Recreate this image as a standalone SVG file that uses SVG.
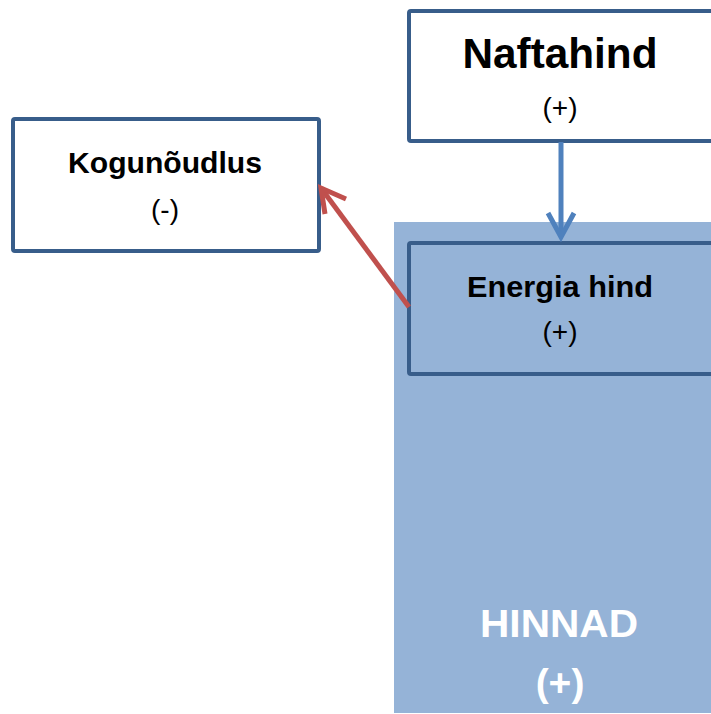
<svg xmlns="http://www.w3.org/2000/svg" width="711" height="714" viewBox="0 0 711 714">
  <defs>
    <style>
      .box { fill: #ffffff; stroke: #385d8a; stroke-width: 4; }
      .boxin { fill: #95b3d7; stroke: #385d8a; stroke-width: 4; }
      .t { font-family: "Liberation Sans", Arial, sans-serif; text-anchor: middle; fill: #000000; }
      .b { font-weight: bold; }
      .w { fill: #ffffff; }
    </style>
  </defs>
  <rect width="711" height="714" fill="#ffffff"/>
  <g id="hinnad">
    <rect x="394" y="222" width="330" height="491" fill="#95b3d7"/>
    <text class="t b w" x="559" y="637" font-size="38" textLength="158" lengthAdjust="spacingAndGlyphs">HINNAD</text>
    <text class="t b w" x="560" y="696" font-size="39">(+)</text>
  </g>
  <g id="naftahind">
    <rect class="box" x="409" y="11" width="320" height="130" rx="2"/>
    <text class="t b" x="560" y="68" font-size="42" textLength="195" lengthAdjust="spacingAndGlyphs">Naftahind</text>
    <text class="t" x="560" y="117" font-size="28">(+)</text>
  </g>
  <g id="energia">
    <rect class="boxin" x="409" y="243" width="320" height="131" rx="2"/>
    <text class="t b" x="560" y="297" font-size="29" textLength="186" lengthAdjust="spacingAndGlyphs">Energia hind</text>
    <text class="t" x="560" y="341" font-size="28">(+)</text>
  </g>
  <g id="kogunoudlus">
    <rect class="box" x="13" y="119" width="306" height="132" rx="2"/>
    <text class="t b" x="165" y="173" font-size="29" textLength="194" lengthAdjust="spacingAndGlyphs">Kogunõudlus</text>
    <text class="t" x="165" y="219" font-size="28">(-)</text>
  </g>
  <g id="connectors" fill="none" stroke-width="5" stroke-linecap="butt" stroke-linejoin="miter">
    <g stroke="#4f81bd">
      <line x1="561" y1="142" x2="561" y2="237"/>
      <polyline points="548,213 561,237 574,213"/>
    </g>
    <g stroke="#c0504d">
      <line x1="409" y1="307" x2="321" y2="188"/>
      <polyline points="325,214 321,188 346,199"/>
    </g>
  </g>
</svg>
